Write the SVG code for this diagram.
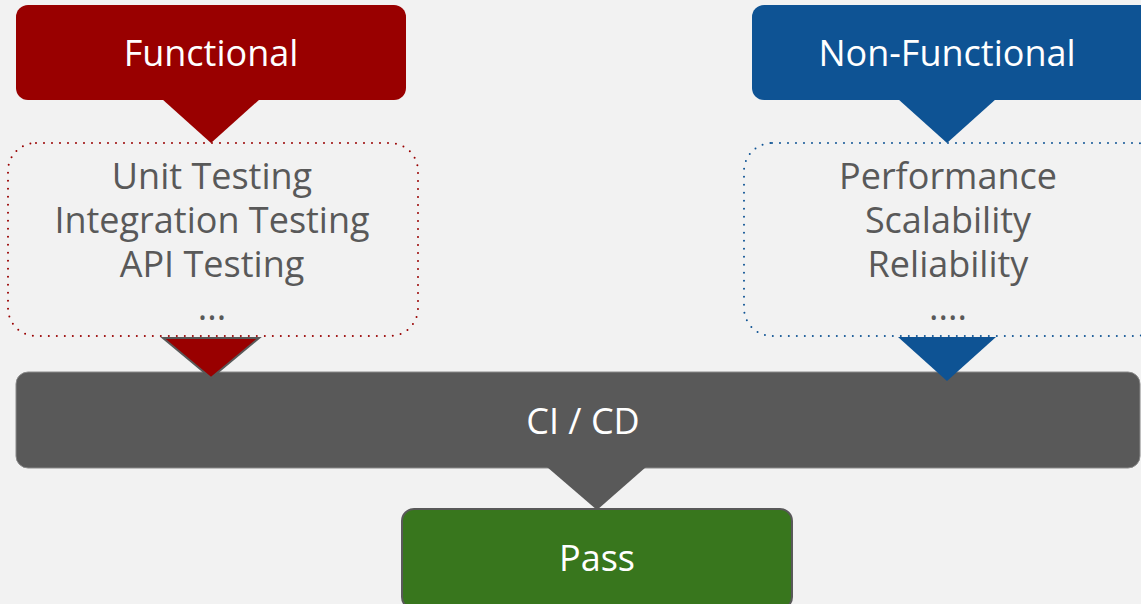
<svg xmlns="http://www.w3.org/2000/svg" width="1141" height="604" viewBox="0 0 1141 604">
<style>
.t{font-family:"Open Sans","Noto Sans",sans-serif;font-size:36px;text-anchor:middle}
.w{fill:#ffffff}
.g{fill:#595959}
</style>
<rect width="1141" height="604" fill="#f2f2f2"/>
<g id="functional">
<rect x="16" y="5" width="390" height="95" rx="12" fill="#990000"/>
<text class="t w" x="211" y="66">Functional</text>
</g>
<g id="nonfunctional">
<rect x="752" y="5" width="400" height="95" rx="12" fill="#0e5394"/>
<text class="t w" x="947" y="66">Non-Functional</text>
</g>
<g id="functional-list">
<rect x="8" y="143" width="410" height="193" rx="28" fill="none" stroke="#990000" stroke-width="2" stroke-dasharray="0 8" stroke-linecap="round"/>
<text class="t g" x="212" y="189">Unit Testing</text>
<text class="t g" x="212" y="233">Integration Testing</text>
<text class="t g" x="212" y="277">API Testing</text>
<text class="t g" x="212" y="320">...</text>
</g>
<g id="nonfunctional-list">
<rect x="744" y="143" width="420" height="193" rx="28" fill="none" stroke="#0e5394" stroke-width="2" stroke-dasharray="0 8" stroke-linecap="round"/>
<text class="t g" x="948" y="189">Performance</text>
<text class="t g" x="948" y="233">Scalability</text>
<text class="t g" x="948" y="277">Reliability</text>
<text class="t g" x="948" y="320">....</text>
</g>
<g id="cicd">
<rect x="16" y="372" width="1124" height="96" rx="12" fill="#595959" stroke="#8a8a8a" stroke-width="1"/>
<text class="t w" x="583" y="434">CI / CD</text>
</g>
<g id="pass">
<rect x="402" y="509" width="390" height="100" rx="12" fill="#38761d" stroke="#595959" stroke-width="2"/>
<text class="t w" x="597" y="571">Pass</text>
</g>
<g id="connectors">
<polygon points="162,99 260,99 211,143" fill="#990000"/>
<polygon points="898,99 996,99 947,143" fill="#0e5394"/>
<polygon points="163,338 259,338 211,378" fill="#990000" stroke="#595959" stroke-width="2" stroke-linejoin="miter"/>
<polygon points="898,337 996,337 947,381" fill="#0e5394"/>
<polygon points="547,467 646,467 597,510" fill="#595959"/>
</g>
</svg>
